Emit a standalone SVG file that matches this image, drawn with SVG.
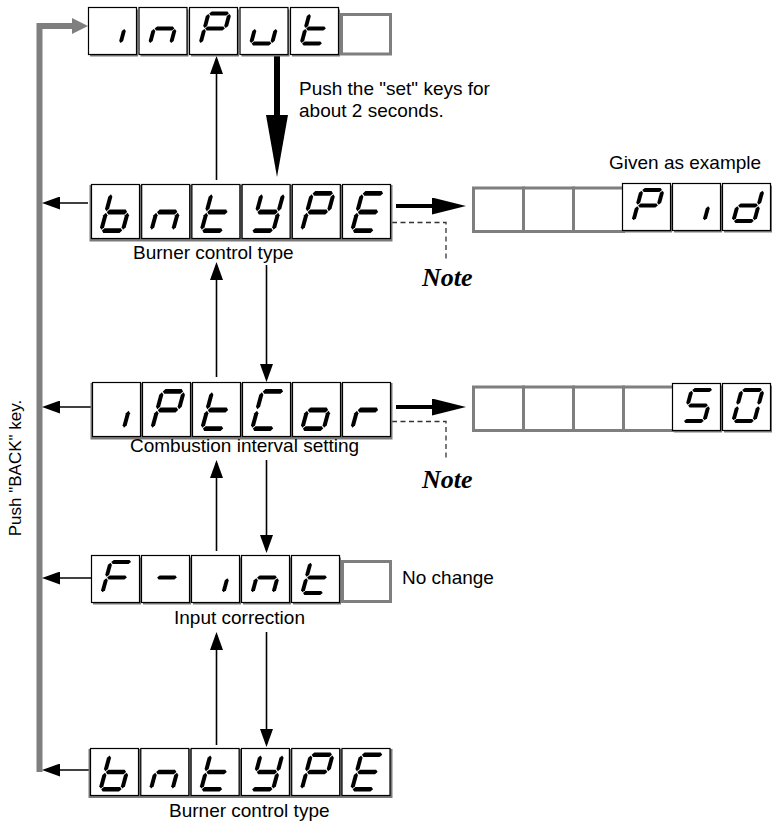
<svg xmlns="http://www.w3.org/2000/svg" width="772" height="826" viewBox="0 0 772 826">
<style>
.lit{fill:#fff;stroke:#000;stroke-width:1.2}
.sh{fill:#7a7a7a}
.emp{fill:#fff;stroke:#7f7f7f;stroke-width:3}
.body{fill:#7a7a7a}
.seg{fill:#000}
.lbl{font-family:"Liberation Sans",Arial,Helvetica,sans-serif;font-size:19px;fill:#000}
.vlbl{font-family:"Liberation Sans",Arial,Helvetica,sans-serif;font-size:17px;fill:#000}
.note{font-family:"Liberation Serif","Times New Roman",serif;font-size:26px;font-weight:bold;font-style:italic;fill:#000}
.thin{fill:none;stroke:#000;stroke-width:1.6}
.dash{fill:none;stroke:#333;stroke-width:1.3;stroke-dasharray:5 3.5}
</style>
<defs>
<marker id="ah" viewBox="0 0 18 13" refX="15" refY="6.5" markerWidth="18" markerHeight="13" markerUnits="userSpaceOnUse" orient="auto"><path d="M0,0 L18,6.5 L0,13 Z" fill="#000"/></marker>
<marker id="ahR" viewBox="0 0 34 17" refX="25" refY="8.5" markerWidth="34" markerHeight="17" markerUnits="userSpaceOnUse" orient="auto"><path d="M0,0 L34,8.5 L0,17 Z" fill="#000"/></marker>
<marker id="ahD" viewBox="0 0 62 22" refX="44" refY="11" markerWidth="62" markerHeight="22" markerUnits="userSpaceOnUse" orient="auto"><path d="M0,0 L62,11 L0,22 Z" fill="#000"/></marker>
<marker id="ahG" viewBox="0 0 16 16" refX="9" refY="8" markerWidth="16" markerHeight="16" markerUnits="userSpaceOnUse" orient="auto"><path d="M0,0 L16,8 L0,16 Z" fill="#7f7f7f"/></marker>
<polygon id="sa" class="seg" points="16.1,7.4 18,5.5 33,5.5 34.9,7.4 33,9.3 18,9.3"/>
<polygon id="sg" class="seg" points="16.1,22 18,20.1 33,20.1 34.9,22 33,23.9 18,23.9"/>
<polygon id="sd" class="seg" points="16.1,36.6 18,34.7 33,34.7 34.9,36.6 33,38.5 18,38.5"/>
<polygon id="sf" class="seg" points="15.5,8 17.4,9.9 17.4,19.5 15.5,21.4 13.6,19.5 13.6,9.9"/>
<polygon id="sb" class="seg" points="35.5,8 37.4,9.9 37.4,19.5 35.5,21.4 33.6,19.5 33.6,9.9"/>
<polygon id="se" class="seg" points="15.5,22.6 17.4,24.5 17.4,34.1 15.5,36 13.6,34.1 13.6,24.5"/>
<polygon id="sc" class="seg" points="35.5,22.6 37.4,24.5 37.4,34.1 35.5,36 33.6,34.1 33.6,24.5"/>
<g id="gi"><use href="#sc"/></g>
<g id="gn"><use href="#se"/><use href="#sg"/><use href="#sc"/></g>
<g id="gP"><use href="#sa"/><use href="#sb"/><use href="#sf"/><use href="#sg"/><use href="#se"/></g>
<g id="gu"><use href="#se"/><use href="#sd"/><use href="#sc"/></g>
<g id="gt"><use href="#sf"/><use href="#se"/><use href="#sg"/><use href="#sd"/></g>
<g id="gb"><use href="#sf"/><use href="#se"/><use href="#sg"/><use href="#sd"/><use href="#sc"/></g>
<g id="gy"><use href="#sf"/><use href="#sb"/><use href="#sg"/><use href="#sc"/><use href="#sd"/></g>
<g id="gE"><use href="#sa"/><use href="#sf"/><use href="#sg"/><use href="#se"/><use href="#sd"/></g>
<g id="gC"><use href="#sa"/><use href="#sf"/><use href="#se"/><use href="#sd"/></g>
<g id="go"><use href="#sg"/><use href="#se"/><use href="#sd"/><use href="#sc"/></g>
<g id="gr"><use href="#se"/><use href="#sg"/></g>
<g id="gF"><use href="#sa"/><use href="#sf"/><use href="#sg"/><use href="#se"/></g>
<g id="gm"><use href="#sg"/></g>
<g id="gd"><use href="#sb"/><use href="#sc"/><use href="#sd"/><use href="#se"/><use href="#sg"/></g>
<g id="g5"><use href="#sa"/><use href="#sf"/><use href="#sg"/><use href="#sc"/><use href="#sd"/></g>
<g id="g0"><use href="#sa"/><use href="#sb"/><use href="#sc"/><use href="#sd"/><use href="#se"/><use href="#sf"/></g>
<g id="cS"><rect class="sh" x="2" y="2.5" width="48" height="47"/><rect class="lit" x="0.5" y="0.5" width="48" height="47"/></g>
<g id="cT"><rect class="sh" x="2" y="2.5" width="48" height="54"/><rect class="lit" x="0.5" y="0.5" width="48" height="54"/></g>
</defs>
<rect width="772" height="826" fill="#fff"/>

<g id="connectors">
<path d="M39.5,772 V26 H81" fill="none" stroke="#7f7f7f" stroke-width="6" stroke-linejoin="miter" marker-end="url(#ahG)"/>
<path class="thin" d="M88,203 H45" marker-end="url(#ah)"/>
<path class="thin" d="M92,407 H45" marker-end="url(#ah)"/>
<path class="thin" d="M91,578 H45" marker-end="url(#ah)"/>
<path class="thin" d="M90,770 H45" marker-end="url(#ah)"/>
<path class="thin" d="M216.5,180 V59" marker-end="url(#ah)"/>
<path d="M277,56 V159" fill="none" stroke="#000" stroke-width="6" marker-end="url(#ahD)"/>
<path class="thin" d="M216.5,377 V265" marker-end="url(#ah)"/>
<path class="thin" d="M266.5,265 V379" marker-end="url(#ah)"/>
<path class="thin" d="M216.5,551 V463" marker-end="url(#ah)"/>
<path class="thin" d="M266.5,460 V550" marker-end="url(#ah)"/>
<path class="thin" d="M216.5,745 V635" marker-end="url(#ah)"/>
<path class="thin" d="M266.5,632 V744" marker-end="url(#ah)"/>
<path d="M396,206 H457" fill="none" stroke="#000" stroke-width="4" marker-end="url(#ahR)"/>
<path d="M396,407 H457" fill="none" stroke="#000" stroke-width="4" marker-end="url(#ahR)"/>
<path class="dash" d="M392,222.5 H446 V262"/>
<path class="dash" d="M392,421.5 H446 V458"/>
</g>

<g id="disp-input">
<use href="#cS" x="88" y="7"/><use href="#cS" x="138.5" y="7"/><use href="#cS" x="189" y="7"/><use href="#cS" x="239.5" y="7"/><use href="#cS" x="290" y="7"/>
<rect class="emp" x="341.5" y="14.5" width="49" height="39.5"/>
<use href="#gi" transform="translate(114,28.5) skewX(-15) scale(1.05,1.03) translate(-25.5,-22)"/>
<use href="#gn" transform="translate(164.5,28.5) skewX(-15) scale(1.05,1.03) translate(-25.5,-22)"/>
<use href="#gP" transform="translate(215,28.5) skewX(-15) scale(1.05,1.03) translate(-25.5,-22)"/>
<use href="#gu" transform="translate(265.5,28.5) skewX(-15) scale(1.05,1.03) translate(-25.5,-22)"/>
<use href="#gt" transform="translate(316,28.5) skewX(-15) scale(1.05,1.03) translate(-25.5,-22)"/>
</g>

<g id="disp-bntype-1">
<rect class="body" x="89.5" y="185" width="303" height="56.5"/>
<use href="#cT" x="91" y="184"/><use href="#cT" x="141.2" y="184"/><use href="#cT" x="191.4" y="184"/><use href="#cT" x="241.6" y="184"/><use href="#cT" x="291.8" y="184"/><use href="#cT" x="342" y="184"/>
<use href="#gb" transform="translate(117,212) skewX(-15) scale(1.08,1.27) translate(-25.5,-22)"/>
<use href="#gn" transform="translate(167.2,212) skewX(-15) scale(1.08,1.27) translate(-25.5,-22)"/>
<use href="#gt" transform="translate(217.4,212) skewX(-15) scale(1.08,1.27) translate(-25.5,-22)"/>
<use href="#gy" transform="translate(267.6,212) skewX(-15) scale(1.08,1.27) translate(-25.5,-22)"/>
<use href="#gP" transform="translate(317.8,212) skewX(-15) scale(1.08,1.27) translate(-25.5,-22)"/>
<use href="#gE" transform="translate(368,212) skewX(-15) scale(1.08,1.27) translate(-25.5,-22)"/>
<text class="lbl" x="133" y="259">Burner control type</text>
</g>

<g id="disp-pid">
<text class="lbl" x="609" y="169">Given as example</text>
<rect class="emp" x="473.5" y="188" width="50" height="43.5"/><rect class="emp" x="523.5" y="188" width="50" height="43.5"/><rect class="emp" x="573.5" y="188" width="50" height="43.5"/>
<use href="#cS" x="622" y="183"/><use href="#cS" x="672" y="183"/><use href="#cS" x="722" y="183"/>
<use href="#gP" transform="translate(648,205.5) skewX(-15) scale(1.05,1.06) translate(-25.5,-22)"/>
<use href="#gi" transform="translate(698,205.5) skewX(-15) scale(1.05,1.06) translate(-25.5,-22)"/>
<use href="#gd" transform="translate(748,205.5) skewX(-15) scale(1.05,1.06) translate(-25.5,-22)"/>
</g>
<g id="note-1"><text class="note" x="422" y="286">Note</text></g>

<g id="disp-iptcor">
<rect class="body" x="90.5" y="383" width="302" height="56.5"/>
<use href="#cT" x="92" y="382"/><use href="#cT" x="142" y="382"/><use href="#cT" x="192" y="382"/><use href="#cT" x="242" y="382"/><use href="#cT" x="292" y="382"/><use href="#cT" x="342" y="382"/>
<use href="#gi" transform="translate(118,410) skewX(-15) scale(1.08,1.27) translate(-25.5,-22)"/>
<use href="#gP" transform="translate(168,410) skewX(-15) scale(1.08,1.27) translate(-25.5,-22)"/>
<use href="#gt" transform="translate(218,410) skewX(-15) scale(1.08,1.27) translate(-25.5,-22)"/>
<use href="#gC" transform="translate(268,410) skewX(-15) scale(1.08,1.27) translate(-25.5,-22)"/>
<use href="#go" transform="translate(318,410) skewX(-15) scale(1.08,1.27) translate(-25.5,-22)"/>
<use href="#gr" transform="translate(368,410) skewX(-15) scale(1.08,1.27) translate(-25.5,-22)"/>
<text class="lbl" x="130" y="452">Combustion interval setting</text>
</g>

<g id="disp-50">
<rect class="emp" x="473.5" y="387" width="50" height="43.5"/><rect class="emp" x="523.5" y="387" width="50" height="43.5"/><rect class="emp" x="573.5" y="387" width="50" height="43.5"/><rect class="emp" x="623.5" y="387" width="50" height="43.5"/>
<use href="#cS" x="672" y="383"/><use href="#cS" x="722" y="383"/>
<use href="#g5" transform="translate(698,405.5) skewX(-15) scale(1.05,1.06) translate(-25.5,-22)"/>
<use href="#g0" transform="translate(748,405.5) skewX(-15) scale(1.05,1.06) translate(-25.5,-22)"/>
</g>
<g id="note-2"><text class="note" x="422" y="488">Note</text></g>

<g id="disp-fint">
<use href="#cS" x="91" y="555"/><use href="#cS" x="141" y="555"/><use href="#cS" x="191" y="555"/><use href="#cS" x="241" y="555"/><use href="#cS" x="291" y="555"/>
<rect class="emp" x="342.5" y="561.5" width="48" height="40"/>
<use href="#gF" transform="translate(117,577.5) skewX(-15) scale(1.05,1.06) translate(-25.5,-22)"/>
<use href="#gm" transform="translate(167,577.5) skewX(-15) scale(1.05,1.06) translate(-25.5,-22)"/>
<use href="#gi" transform="translate(217,577.5) skewX(-15) scale(1.05,1.06) translate(-25.5,-22)"/>
<use href="#gn" transform="translate(267,577.5) skewX(-15) scale(1.05,1.06) translate(-25.5,-22)"/>
<use href="#gt" transform="translate(317,577.5) skewX(-15) scale(1.05,1.06) translate(-25.5,-22)"/>
<text class="lbl" x="402" y="584">No change</text>
<text class="lbl" x="174" y="624">Input correction</text>
</g>

<g id="disp-bntype-2">
<rect class="body" x="88.5" y="749" width="304" height="49"/>
<use href="#cS" x="90" y="748"/><use href="#cS" x="140.3" y="748"/><use href="#cS" x="190.6" y="748"/><use href="#cS" x="240.9" y="748"/><use href="#cS" x="291.2" y="748"/><use href="#cS" x="341.5" y="748"/>
<use href="#gb" transform="translate(116,772) skewX(-15) scale(1.08,1.18) translate(-25.5,-22)"/>
<use href="#gn" transform="translate(166.3,772) skewX(-15) scale(1.08,1.18) translate(-25.5,-22)"/>
<use href="#gt" transform="translate(216.6,772) skewX(-15) scale(1.08,1.18) translate(-25.5,-22)"/>
<use href="#gy" transform="translate(266.9,772) skewX(-15) scale(1.08,1.18) translate(-25.5,-22)"/>
<use href="#gP" transform="translate(317.2,772) skewX(-15) scale(1.08,1.18) translate(-25.5,-22)"/>
<use href="#gE" transform="translate(367.5,772) skewX(-15) scale(1.08,1.18) translate(-25.5,-22)"/>
<text class="lbl" x="169" y="817">Burner control type</text>
</g>

<g id="labels">
<text class="lbl" x="299" y="95">Push the "set" keys for</text>
<text class="lbl" x="299" y="117">about 2 seconds.</text>
<text class="vlbl" transform="translate(21,468) rotate(-90)" text-anchor="middle">Push "BACK" key.</text>
</g>
</svg>
